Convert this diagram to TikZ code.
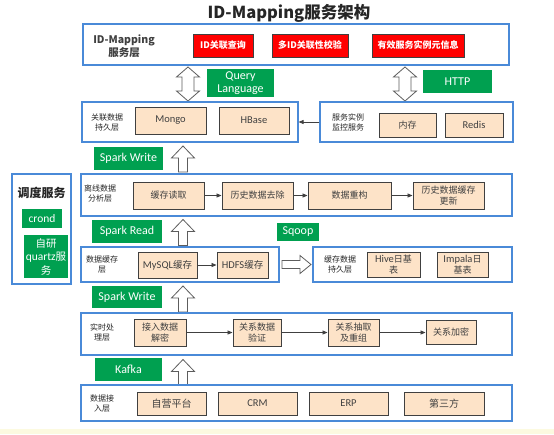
\documentclass[tikz,border=0pt]{standalone}
\usepackage{fontspec}
\setmainfont{Noto Sans CJK SC}
\newfontfamily\lat{Carlito}
\usetikzlibrary{arrows.meta}
\definecolor{lblue}{HTML}{4A8AD8}
\definecolor{lgreen}{HTML}{00A050}
\definecolor{peach}{HTML}{FDE3C8}
\definecolor{dgray}{HTML}{404040}
\definecolor{tgray}{HTML}{262626}
\definecolor{stripc}{HTML}{FCFAE0}
\newcommand{\fs}[2]{\fontsize{#1}{#2}\selectfont}
\newcommand{\latn}[1]{{\lat\fontsize{10.5}{12}\selectfont #1}}
\begin{document}
\begin{tikzpicture}[x=1pt,y=-1pt,
  sz/.style 2 args={minimum width=#1, minimum height=#2},
  layer/.style={draw=lblue, line width=1.1pt, fill=white, inner sep=0pt},
  inbox/.style={draw=dgray, line width=0.9pt, fill=peach, text=dgray, align=center, inner sep=0pt, font=\fs{9}{10.5}},
  redbox/.style={draw=dgray, line width=0.6pt, fill=red, text=white, font=\bfseries\fs{9}{11}, inner sep=0pt},
  greenbox/.style={fill=lgreen, text=white, font=\lat\fs{12}{13.5}, align=center, inner sep=0pt},
  lab/.style={text=tgray, align=center, font=\fs{8}{10}, inner sep=0pt},
  conn/.style={draw=dgray, line width=0.8pt, -{Triangle[length=5pt,width=4pt]}},
  hollow/.style={draw=dgray!85, fill=white, line width=0.8pt, line join=miter},
  uparrow/.pic={\draw[hollow] (0,-13) -- (11.5,-1) -- (4.5,-1) -- (4.5,13) -- (-4.5,13) -- (-4.5,-1) -- (-11.5,-1) -- cycle;},
  dblarrow/.pic={\draw[hollow] (0,-17) -- (11.5,-7) -- (6,-7) -- (6,7) -- (11.5,7) -- (0,17) -- (-11.5,7) -- (-6,7) -- (-6,-7) -- (-11.5,-7) -- cycle;},
  rarrow/.pic={\draw[hollow] (14.5,0) -- (3.5,-9) -- (3.5,-4) -- (-14.5,-4) -- (-14.5,4) -- (3.5,4) -- (3.5,9) -- cycle;}
]
\useasboundingbox (0,0) rectangle (554,434);
\fill[white] (0,0) rectangle (554,434);
\fill[stripc] (0,429) rectangle (554,434);

% title
\node[font=\bfseries\fs{16.5}{18}, text=tgray, inner sep=0pt] (title) at (289,13) {ID-Mapping服务架构};

% service layer
\node[layer, sz={426}{41}] (svc) at (296,44.5) {};
\node[lab, font=\bfseries\fs{10.5}{12.5}, text=dgray] (svclab) at (124,46) {ID-Mapping\\服务层};
\node[redbox, sz={60}{23}] (r1) at (223,45.5) {ID关联查询};
\node[redbox, sz={76}{23}] (r2) at (310,45.5) {多ID关联性校验};
\node[redbox, sz={92}{23}] (r3) at (418,45.5) {有效服务实例元信息};

\pic at (188,84) {dblarrow};
\node[greenbox, sz={67}{28}] (ql) at (240.5,83) {Query\\Language};
\pic at (405,84) {dblarrow};
\node[greenbox, sz={69}{23}] (http) at (457.5,81.5) {HTTP};

% persistence + monitor
\node[layer, sz={216}{40}] (persist) at (190,122) {};
\node[lab] (persistlab) at (107,122) {关联数据\\持久层};
\node[inbox, sz={71}{27}] (mongo) at (170.5,120.5) {\latn{Mongo}};
\node[inbox, sz={70}{27}] (hbase) at (254,120.5) {\latn{HBase}};
\node[layer, sz={193}{40}] (monitor) at (416.5,122) {};
\node[lab] (monlab) at (348,122) {服务实例\\监控服务};
\node[inbox, sz={57}{24}] (mem) at (407.5,125) {内存};
\node[inbox, sz={58}{24}] (redis) at (474,125) {\latn{Redis}};
\draw[conn] (monitor.west) -- (persist.east);

% spark write 1
\node[greenbox, sz={69}{23}] (sw1) at (128.5,158.5) {Spark Write};
\pic at (183,159) {uparrow};

% schedule
\node[layer, sz={59}{110}] (sched) at (41.5,229) {};
\node[lab, font=\bfseries\fs{12}{14}] (schedlab) at (41.5,193) {调度服务};
\node[greenbox, sz={40}{19}, font=\lat\fs{11.5}{13}] (crond) at (42,218.5) {crond};
\node[greenbox, sz={44}{43}, font=\fs{10.5}{13.5}] (quartz) at (46,256.5) {自研\\{\lat\fontsize{11.5}{13}\selectfont quartz}服\\务};

% offline layer
\node[layer, sz={431}{42}] (offline) at (296.5,195) {};
\node[lab] (offlab) at (100,193) {离线数据\\分析层};
\node[inbox, sz={71}{27}] (o1) at (168.5,195.5) {缓存读取};
\node[inbox, sz={71}{27}] (o2) at (257.5,195.5) {历史数据去除};
\node[inbox, sz={83}{27}] (o3) at (349.5,195.5) {数据重构};
\node[inbox, sz={71}{27}] (o4) at (448.5,195.5) {历史数据缓存\\更新};
\draw[conn] (o1) -- (o2);
\draw[conn] (o2) -- (o3);
\draw[conn] (o3) -- (o4);

% spark read
\node[greenbox, sz={70}{23}] (sr) at (127,231.5) {Spark Read};
\pic at (183,232.5) {uparrow};
\node[greenbox, sz={42}{18}] (sqoop) at (298,232) {Sqoop};

% cache layer
\node[layer, sz={198}{35}] (cache) at (180,264.5) {};
\node[lab] (cachelab) at (102,264) {数据缓存\\层};
\node[inbox, sz={59}{26}, font=\fs{9.5}{11}] (mysql) at (167.5,265) {{\lat\fontsize{10.5}{12}\selectfont MySQL}缓存};
\node[inbox, sz={51}{26}, font=\fs{9.5}{11}] (hdfs) at (242.5,265) {{\lat\fontsize{10.5}{12}\selectfont HDFS}缓存};
\draw[conn] (mysql) -- (hdfs);
\pic at (296.5,264.5) {rarrow};
\node[layer, sz={199}{35}] (cachep) at (412.5,264.5) {};
\node[lab] (cacheplab) at (340,264) {缓存数据\\持久层};
\node[inbox, sz={53}{25}] (hive) at (393.5,264.5) {{\lat\fontsize{10.5}{12}\selectfont Hive}日基\\表};
\node[inbox, sz={51}{25}] (impala) at (462.5,264.5) {{\lat\fontsize{10.5}{12}\selectfont Impala}日\\基表};

% spark write 2
\node[greenbox, sz={70}{22}] (sw2) at (127,297) {Spark Write};
\pic at (183,299) {uparrow};

% realtime layer
\node[layer, sz={431}{42}] (rt) at (296.5,334) {};
\node[lab] (rtlab) at (102,332) {实时处\\理层};
\node[inbox, sz={52}{27}] (rt1) at (160,332.5) {接入数据\\解密};
\node[inbox, sz={48}{27}] (rt2) at (257,332.5) {关系数据\\验证};
\node[inbox, sz={51}{27}] (rt3) at (353.5,332.5) {关系抽取\\及重组};
\node[inbox, sz={50}{24}] (rt4) at (451,332.5) {关系加密};
\draw[conn] (rt1) -- (rt2);
\draw[conn] (rt2) -- (rt3);
\draw[conn] (rt3) -- (rt4);

% kafka
\node[greenbox, sz={67}{23}] (kafka) at (128.5,369.5) {Kafka};
\pic at (183,372.5) {uparrow};

% access layer
\node[layer, sz={431}{36}] (acc) at (296.5,403) {};
\node[lab] (acclab) at (102,403) {数据接\\入层};
\node[inbox, sz={69}{23}, font=\fs{10}{12}] (a1) at (171.5,403.5) {自营平台};
\node[inbox, sz={79}{23}] (a2) at (257.5,403.5) {\latn{CRM}};
\node[inbox, sz={79}{23}] (a3) at (348.5,403.5) {\latn{ERP}};
\node[inbox, sz={80}{23}, font=\fs{10}{12}] (a4) at (444,403.5) {第三方};
\end{tikzpicture}
\end{document}
